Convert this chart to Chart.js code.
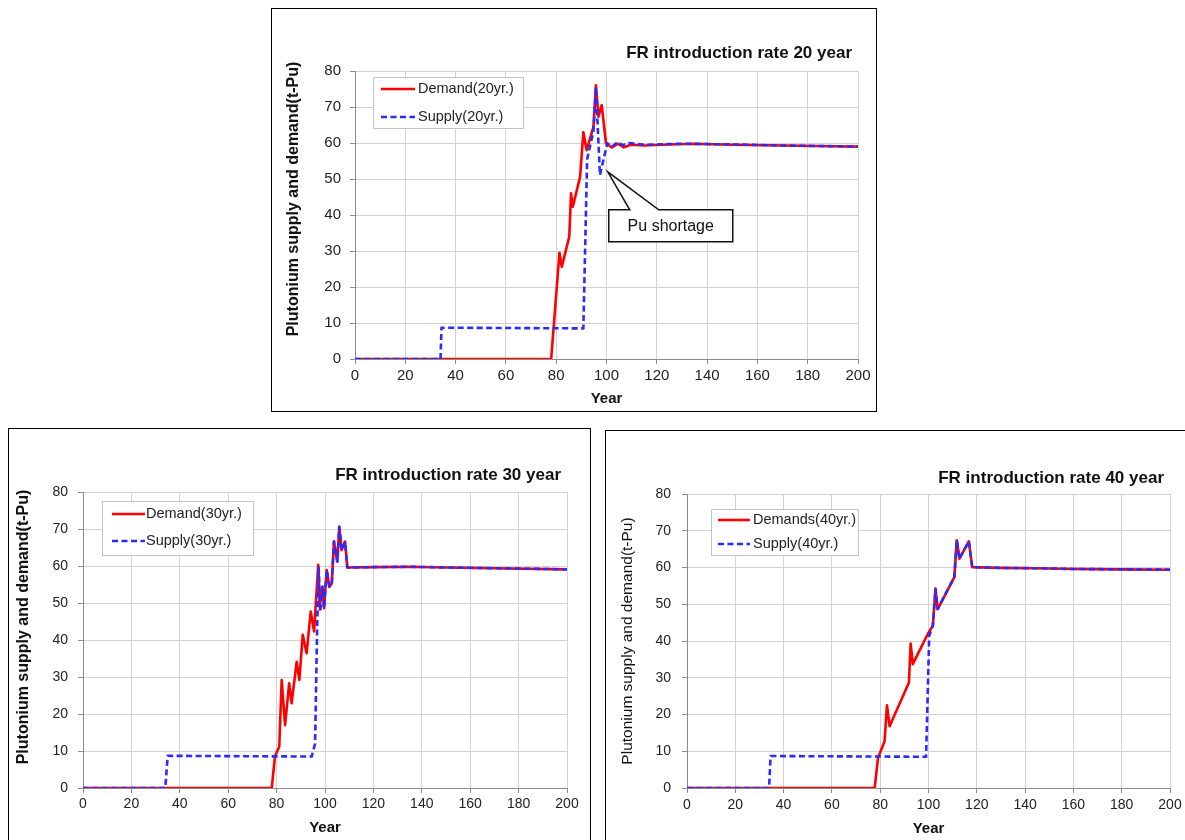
<!DOCTYPE html>
<html><head><meta charset="utf-8">
<script src="https://cdn.jsdelivr.net/npm/chart.js@4.4.0/dist/chart.umd.min.js"></script>
<style>
html,body{margin:0;padding:0;background:#fff;overflow:hidden;width:1185px;height:840px;}
.box{position:absolute;border:1px solid #000;background:#fff;}
.box canvas{display:block;}
</style></head><body>
<div class="box" style="left:271px;top:8px;width:604px;height:402px;"><canvas id="c1" width="604" height="402"></canvas></div>
<div class="box" style="left:8px;top:428px;width:581px;height:418px;"><canvas id="c2" width="581" height="418"></canvas></div>
<div class="box" style="left:605px;top:430px;width:598px;height:418px;"><canvas id="c3" width="598" height="418"></canvas></div>
<script>
// ---------- data (years / values) ----------
const xTicks = [0, 20, 40, 60, 80, 100, 120, 140, 160, 180, 200];
const yTicks = [0, 10, 20, 30, 40, 50, 60, 70, 80];

const demand20Years = [0, 78, 81.3, 82.2, 85.2, 85.9, 86.6, 89.5, 90.8, 92.1, 94.8, 95.8, 96.8, 98.1, 99.8, 102.2, 104.5, 106.9, 109.6, 115, 125, 135, 150, 170, 190, 200];
const demand20Values = [0, 0, 29.5, 25.6, 34, 46, 42.3, 50.6, 63, 58, 64.5, 76, 67.3, 70.5, 59.9, 58.8, 59.8, 58.8, 59.5, 59.3, 59.6, 59.8, 59.5, 59.3, 59.1, 59.0];
const supply20Years = [0, 34, 34.4, 90.8, 92.3, 94.8, 95.8, 97.4, 100.3, 102.2, 104.4, 106.5, 109, 115, 130, 150, 170, 200];
const supply20Values = [0, 0, 8.7, 8.5, 55.5, 63.3, 75.5, 51.1, 59.9, 59.0, 60.2, 59.4, 60.0, 59.5, 59.8, 59.6, 59.3, 59.0];

const demand30Years = [0, 78, 79.3, 81.1, 82.1, 83.5, 85.2, 86.2, 88.3, 89.4, 90.8, 92.4, 94.1, 95.5, 97.2, 97.9, 99.0, 99.6, 100.7, 101.8, 102.8, 103.7, 105.1, 105.9, 106.9, 108.3, 109.2, 120, 135, 150, 170, 200];
const demand30Values = [0, 0, 8.5, 11.2, 29.2, 17, 28.3, 22.9, 34.1, 29.2, 41.4, 36.4, 47.7, 42.3, 60.3, 49.5, 54.4, 48.6, 58.9, 54.4, 55.3, 66.6, 61.2, 70.6, 64.3, 66.6, 59.6, 59.7, 59.8, 59.6, 59.4, 59.1];
const supply30Years = [0, 34, 35, 94.5, 95.9, 96.8, 97.4, 98.0, 99.0, 99.6, 100.7, 101.8, 102.8, 103.7, 105.1, 105.9, 106.9, 108.3, 109.2, 120, 135, 150, 170, 200];
const supply30Values = [0, 0, 8.7, 8.5, 12, 45, 59.5, 47.5, 54.4, 48.6, 58.9, 54.4, 55.3, 66.6, 61.2, 70.6, 64.3, 66.6, 59.6, 59.7, 59.8, 59.6, 59.4, 59.1];

const demand40Years = [0, 77.7, 79.1, 81.8, 82.8, 83.9, 91.9, 92.6, 93.5, 99.7, 101.8, 102.9, 103.8, 110.7, 111.7, 112.8, 116.7, 118.1, 130, 145, 160, 180, 200];
const demand40Values = [0, 0, 8.2, 12.7, 22.5, 16.8, 28.7, 39.3, 33.7, 41.9, 44.2, 54.2, 48.7, 57.4, 67.4, 62.4, 67.1, 60.1, 59.9, 59.8, 59.6, 59.5, 59.4];
const supply40Years = [0, 34, 34.6, 99.0, 100.3, 101.8, 102.9, 103.8, 110.7, 111.7, 112.8, 116.7, 118.1, 130, 145, 160, 180, 200];
const supply40Values = [0, 0, 8.7, 8.5, 41.5, 44.2, 54.2, 48.7, 57.4, 67.4, 62.4, 67.1, 60.1, 59.9, 59.8, 59.6, 59.5, 59.4];

const titles = ['FR introduction rate 20 year', 'FR introduction rate 30 year', 'FR introduction rate 40 year'];
const demandLabels = ['Demand(20yr.)', 'Demand(30yr.)', 'Demands(40yr.)'];
const supplyLabels = ['Supply(20yr.)', 'Supply(30yr.)', 'Supply(40yr.)'];
const xTitle = 'Year';
const yTitle = 'Plutonium supply and demand(t-Pu)';
const calloutText = 'Pu shortage';
const calloutPoint = [100.5, 52];

// ---------- rendering ----------
const F = "'Liberation Sans', Arial, Helvetica, sans-serif";
const pts = (xs, ys) => xs.map((x, i) => ({x: x, y: ys[i]}));

const decor = {
  id: 'decor',
  afterDraw(chart, args, o) {
    const ctx = chart.ctx;
    ctx.save();
    ctx.font = o.titleFont; ctx.fillStyle = '#111'; ctx.textAlign = 'right'; ctx.textBaseline = 'middle';
    ctx.fillText(o.title, o.titleX, o.titleY);
    // y axis title
    ctx.save();
    ctx.translate(o.yt.x, o.yt.y); ctx.rotate(-Math.PI / 2);
    ctx.font = o.yt.font; ctx.textAlign = 'center'; ctx.textBaseline = 'middle'; ctx.fillStyle = '#111';
    ctx.fillText(yTitle, 0, 0);
    ctx.restore();
    const L = o.legend;
    ctx.fillStyle = '#fff'; ctx.fillRect(L.x, L.y, L.w, L.h);
    ctx.strokeStyle = '#c4c4c4'; ctx.lineWidth = 1; ctx.strokeRect(L.x + 0.5, L.y + 0.5, L.w, L.h);
    chart.data.datasets.forEach((ds, i) => {
      const y = L.rows[i];
      ctx.strokeStyle = ds.borderColor; ctx.lineWidth = ds.borderWidth; ctx.setLineDash(ds.borderDash || []);
      ctx.beginPath(); ctx.moveTo(L.x1, y); ctx.lineTo(L.x2, y); ctx.stroke();
      ctx.setLineDash([]);
      ctx.fillStyle = '#222'; ctx.font = L.font; ctx.textAlign = 'left'; ctx.textBaseline = 'middle';
      ctx.fillText(ds.label, L.tx, y);
    });
    if (o.callout) {
      const c = o.callout;
      const tx = chart.scales.x.getPixelForValue(c.point[0]);
      const ty = chart.scales.y.getPixelForValue(c.point[1]);
      const bx = tx + c.dx, by = ty + c.dy;
      ctx.beginPath();
      ctx.moveTo(bx, by);
      ctx.lineTo(bx + c.b1, by);
      ctx.lineTo(tx, ty);
      ctx.lineTo(bx + c.b2, by);
      ctx.lineTo(bx + c.w, by);
      ctx.lineTo(bx + c.w, by + c.h);
      ctx.lineTo(bx, by + c.h);
      ctx.closePath();
      ctx.fillStyle = '#fff'; ctx.fill();
      ctx.strokeStyle = '#111'; ctx.lineWidth = 1.5; ctx.stroke();
      ctx.fillStyle = '#111'; ctx.font = c.font; ctx.textAlign = 'center'; ctx.textBaseline = 'middle';
      ctx.fillText(c.text, bx + c.w / 2, by + c.h / 2 + 1);
    }
    ctx.restore();
  }
};

function makeChart(id, k, dY, dV, sY, sV, L) {
  new Chart(document.getElementById(id), {
    type: 'line',
    data: {datasets: [
      {label: demandLabels[k], data: pts(dY, dV), borderColor: '#ff0000', borderWidth: 2.6, borderJoinStyle: 'round', pointRadius: 0, tension: 0, order: 1},
      {label: supplyLabels[k], data: pts(sY, sV), borderColor: '#2b2bff', borderWidth: 2.6, borderJoinStyle: 'round', borderDash: [6, 3.5], pointRadius: 0, tension: 0, order: 0}
    ]},
    options: {
      responsive: false, animation: false, devicePixelRatio: 1,
      layout: {padding: L.pad},
      plugins: {legend: {display: false}, tooltip: {enabled: false}, decor: {
        title: titles[k], titleFont: 'bold 17px ' + F, titleX: L.tX, titleY: L.tY,
        yt: L.yt, legend: L.leg, callout: L.callout || null}},
      scales: {
        x: {type: 'linear', min: 0, max: 200, afterFit(s) { s.height = L.xh; },
          afterBuildTicks(s) { s.ticks = xTicks.map(v => ({value: v})); },
          ticks: {font: {family: F, size: L.tick}, color: '#222', padding: L.xpad, maxRotation: 0, autoSkip: false},
          grid: {color: '#d2d2d2', lineWidth: 1, tickLength: 5, tickColor: '#8c8c8c'},
          border: {color: '#8c8c8c', width: 1},
          title: {display: true, text: xTitle, color: '#111', font: {family: F, size: 15, weight: 'bold', lineHeight: 1.2}, padding: {top: 0, bottom: L.xtp}}},
        y: {type: 'linear', min: 0, max: 80, afterFit(s) { s.width = L.yw; },
          afterBuildTicks(s) { s.ticks = yTicks.map(v => ({value: v})); },
          ticks: {font: {family: F, size: L.tick}, color: '#222', padding: L.ypad},
          grid: {color: '#d2d2d2', lineWidth: 1, tickLength: 5, tickColor: '#8c8c8c'},
          border: {color: '#8c8c8c', width: 1},
          title: {display: false}}
      }
    },
    plugins: [decor]
  });
}

makeChart('c1', 0, demand20Years, demand20Values, supply20Years, supply20Values, {
  pad: {top: 62, right: 18, left: 0, bottom: 0}, xh: 52, yw: 83, tick: 15, xpad: 3, ypad: 9, xtp: 3,
  yt: {x: 22, y: 190, font: 'bold 16px ' + F}, tX: 580, tY: 44,
  leg: {x: 101, y: 68, w: 150, h: 51, rows: [80, 108], x1: 109, x2: 143, tx: 146, font: '14.5px ' + F},
  callout: {point: calloutPoint, dx: 1, dy: 38, w: 124, h: 32, b1: 21, b2: 50, text: calloutText, font: '16px ' + F}
});
makeChart('c2', 1, demand30Years, demand30Values, supply30Years, supply30Values, {
  pad: {top: 63, right: 23, left: 0, bottom: 0}, xh: 59, yw: 74, tick: 14, xpad: 3, ypad: 10, xtp: 10,
  yt: {x: 15, y: 198, font: 'bold 16px ' + F}, tX: 552, tY: 46,
  leg: {x: 93, y: 72, w: 151, h: 54, rows: [85, 112], x1: 103, x2: 136, tx: 137, font: '14.5px ' + F}
});
makeChart('c3', 2, demand40Years, demand40Values, supply40Years, supply40Values, {
  pad: {top: 63, right: 34, left: 0, bottom: 0}, xh: 61, yw: 81, tick: 14, xpad: 4, ypad: 11, xtp: 11,
  yt: {x: 22, y: 210, font: '15.5px ' + F}, tX: 558, tY: 47,
  leg: {x: 105, y: 78, w: 147, h: 46, rows: [89, 113], x1: 112, x2: 144, tx: 147, font: '14.5px ' + F}
});
</script>
</body></html>
